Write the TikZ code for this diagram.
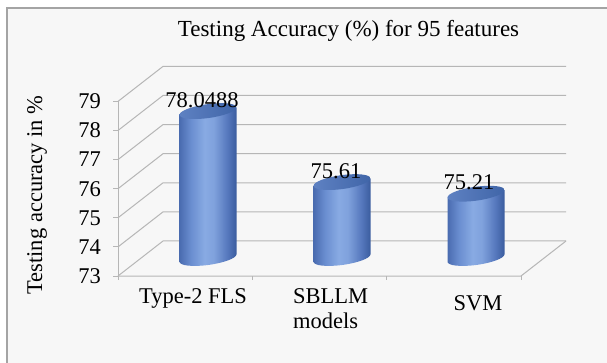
\documentclass[tikz,border=0pt]{standalone}
\usepackage{fontspec}
\setmainfont{Liberation Serif}
\definecolor{gridgray}{HTML}{B6B6B6}
\definecolor{framegray}{HTML}{A4A4A4}
\definecolor{panel}{HTML}{F7F7F7}
\definecolor{cylrimL}{HTML}{4A6CB0}
\definecolor{cylmidL}{HTML}{6A8ED0}
\definecolor{cyllight}{HTML}{88AAE3}
\definecolor{cyllight2}{HTML}{80A2DD}
\definecolor{cylmidR}{HTML}{5678BD}
\definecolor{cylrimR}{HTML}{3B5C9E}
\definecolor{capl}{HTML}{5E81C2}
\definecolor{capr}{HTML}{4065A8}
% body of a cylinder: softer left rim, light band near the middle, dark right rim
\pgfdeclarehorizontalshading{cylbody}{100bp}{color(0bp)=(cylrimL); color(25bp)=(cylrimL); color(35bp)=(cylmidL); color(47bp)=(cyllight); color(55bp)=(cyllight2); color(67bp)=(cylmidR); color(75bp)=(cylrimR); color(100bp)=(cylrimR)}
% #1 = centre x, #2 = height in pt above the base
\newcommand\barcyl[2]{%
  \begin{scope}[shift={(#1,258)}, yslant=0.13]
    \shade[shading=cylbody] (-28.5pt,0pt) -- (-28.5pt,#2pt) -- (28.5pt,#2pt) -- (28.5pt,0pt)
      arc[start angle=0,end angle=-180,x radius=28.5pt,y radius=7pt] -- cycle;
    \shade[left color=capl,right color=capr] (0pt,#2pt) ellipse[x radius=28.5pt,y radius=7pt];
  \end{scope}}
\begin{document}
\begin{tikzpicture}[x=1pt,y=-1pt,
  grid/.style={draw=gridgray,line width=1pt},
  txt/.style={inner sep=0pt,font=\fontsize{22.5}{25}\selectfont},
  ttl/.style={inner sep=0pt,font=\fontsize{23}{26}\selectfont}]
\useasboundingbox (0,0) rectangle (607,363);
\fill[white] (0,0) rectangle (607,363);
% chart panel
\fill[panel] (7,8) rectangle (607,363);
\draw[framegray,line width=1.3pt] (7,363) -- (7,8) -- (607,8);

% walls: back wall lines, side wall diagonals, front axis
\foreach \k in {0,...,6}{
  \pgfmathsetmacro\yf{276-29.1*\k}
  \draw[grid] (118,\yf) -- (163,\yf-35) -- (566,\yf-35);
  \draw[grid] (113,\yf) -- (118,\yf);
}
\draw[grid] (118,276) -- (118,101.4);
% floor
\draw[grid] (118,276) -- (521,276) -- (566,241);
\foreach \x in {118,252,386,521}
  \draw[grid] (\x,276) -- (\x,280);

% tick labels
\foreach \k in {0,...,6}{
  \pgfmathsetmacro\yf{276-29.1*\k}
  \pgfmathtruncatemacro\v{73+\k}
  \node[txt,anchor=east] (tick\v) at (101,\yf) {\v};
}

% cylinders
\barcyl{208}{146.9}
\barcyl{342}{75.9}
\barcyl{476}{64.3}

% value labels
\node[txt] (vfls) at (202,100) {78.0488};
\node[txt] (vsbl) at (336,171) {75.61};
\node[txt] (vsvm) at (469,182) {75.21};

% category labels
\node[txt] (cfls) at (193,298) {Type-2 FLS};
\node[txt,anchor=north west,align=left] (csbl) at (293,288) {SBLLM\\models};
\node[txt] (csvm) at (478,303) {SVM};

% title and axis title
\node[ttl] (title) at (348.5,31) {Testing Accuracy (\%) for 95 features};
\node[txt,rotate=90] (ylab) at (37,195) {Testing accuracy in \%};
\end{tikzpicture}
\end{document}
